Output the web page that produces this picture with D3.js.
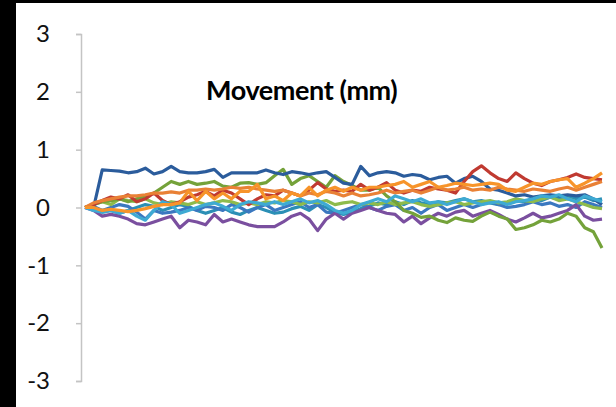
<!DOCTYPE html>
<html lang="en">
<head>
  <meta charset="UTF-8">
  <title>Movement (mm)</title>
  <script src="https://d3js.org/d3.v7.min.js"></script>
  <style>
    body { margin: 0; background: #000; }
    svg { display: block; }
    .y.axis path, .y.axis line { stroke: #c4c4c4; stroke-width: 1.5; }
    .y.axis text { font-family: Lato, "Open Sans", sans-serif; font-size: 24px; fill: #111; }
    .title { font-family: Lato, "Open Sans", sans-serif; font-weight: bold; font-size: 27px; letter-spacing: -0.4px; fill: #000; }
  </style>
</head>
<body>
  <svg width="616" height="407"></svg>
  <script>
    // tick values on the y axis
    const yTicks = [-3, -2, -1, 0, 1, 2, 3];

    // one value per time step (61 steps)
    const darkBlue = [0, 0, 0.65, 0.64, 0.63, 0.6, 0.62, 0.68, 0.58, 0.62, 0.71, 0.62, 0.6, 0.6, 0.62, 0.66, 0.52, 0.6, 0.6, 0.6,
      0.6, 0.65, 0.6, 0.57, 0.62, 0.6, 0.57, 0.6, 0.62, 0.52, 0.42, 0.4, 0.71, 0.55, 0.6, 0.62, 0.6, 0.54, 0.57, 0.55,
      0.48, 0.52, 0.54, 0.42, 0.5, 0.54, 0.45, 0.32, 0.3, 0.25, 0.2, 0.22, 0.18, 0.2, 0.22, 0.2, 0.22, 0.2, 0.22, 0.15, 0.05];
    const red = [0, 0.05, 0.12, 0.18, 0.15, 0.22, 0.1, 0.15, 0.25, 0.12, 0.05, 0.1, 0.18, 0.22, 0.28, 0.2, 0.3, 0.25, 0.15, 0.05,
      0.15, 0.22, 0.2, 0.3, 0.25, 0.2, 0.3, 0.43, 0.32, 0.28, 0.3, 0.28, 0.4, 0.3, 0.35, 0.43, 0.3, 0.25, 0.3, 0.28,
      0.35, 0.32, 0.3, 0.25, 0.45, 0.62, 0.72, 0.6, 0.5, 0.45, 0.6, 0.5, 0.42, 0.38, 0.45, 0.48, 0.52, 0.58, 0.52, 0.5, 0.48];
    const green = [0, 0.05, 0.1, 0.12, 0.15, 0.1, 0.15, 0.2, 0.25, 0.35, 0.45, 0.4, 0.45, 0.4, 0.42, 0.45, 0.37, 0.35, 0.42, 0.43,
      0.4, 0.43, 0.55, 0.66, 0.4, 0.5, 0.55, 0.45, 0.35, 0.55, 0.45, 0.38, 0.3, 0.3, 0.35, 0.2, 0.1, -0.05, -0.1, -0.17,
      -0.15, -0.22, -0.26, -0.18, -0.22, -0.24, -0.15, -0.08, -0.15, -0.2, -0.38, -0.35, -0.3, -0.22, -0.25, -0.2, -0.1, -0.15, -0.35, -0.42, -0.7];
    const purple = [0, -0.05, -0.15, -0.12, -0.15, -0.2, -0.28, -0.3, -0.25, -0.2, -0.15, -0.35, -0.22, -0.25, -0.3, -0.12, -0.25, -0.2, -0.25, -0.3,
      -0.33, -0.33, -0.33, -0.25, -0.15, -0.1, -0.2, -0.4, -0.2, -0.1, -0.2, -0.1, -0.05, 0, -0.05, -0.1, -0.12, -0.25, -0.15, -0.28,
      -0.18, -0.1, -0.15, -0.08, -0.05, -0.15, -0.1, -0.05, -0.12, -0.2, -0.25, -0.18, -0.1, -0.18, -0.15, -0.1, -0.05, 0.05, -0.15, -0.22, -0.2];
    const cyan = [0, -0.05, -0.08, -0.05, -0.1, -0.05, -0.15, -0.22, -0.05, 0.1, 0.05, -0.1, -0.05, 0, 0.05, 0.08, 0.02, -0.05, 0.05, 0.1,
      0.08, 0.05, 0.1, 0.05, 0.1, 0.15, 0.08, 0.12, 0.05, -0.05, -0.1, -0.05, 0.05, 0.1, 0.15, 0.1, 0.2, 0.15, 0.1, 0.15,
      0.08, 0.1, 0.05, 0.1, 0.15, 0.1, 0.05, 0.08, 0.1, 0.05, 0.1, 0.12, 0.15, 0.2, 0.18, 0.22, 0.15, 0.1, 0.2, 0.15, 0.1];
    const blue = [0, 0.02, -0.05, 0, 0.05, 0.02, -0.08, -0.2, -0.05, -0.1, -0.08, -0.05, 0, -0.05, 0.02, 0, -0.05, 0.05, 0, -0.08,
      0, 0.05, -0.05, 0, 0.05, 0.1, 0, 0.05, -0.08, -0.1, -0.05, 0, 0.05, 0, -0.05, 0.02, 0.05, -0.05, 0, -0.1,
      0, 0.05, -0.05, 0, 0.05, 0, 0.05, 0.1, 0.05, 0, 0.02, 0.05, 0.1, 0.05, 0.08, 0.02, 0.05, 0, 0.1, 0.05, 0];
    const teal = [0, -0.02, -0.08, -0.05, -0.1, -0.05, 0, 0.05, 0.02, -0.05, 0, 0.05, 0.02, -0.05, -0.1, -0.05, 0, -0.08, -0.12, -0.05,
      0, -0.05, -0.1, -0.08, -0.02, 0.02, -0.05, 0.05, 0, -0.08, -0.12, -0.08, -0.02, 0.02, 0.08, 0.05, 0.1, 0.05, 0.12, 0.08,
      0.05, 0.1, 0.08, 0.12, 0.15, 0.1, 0.12, 0.08, 0.05, 0.08, 0.12, 0.1, 0.15, 0.12, 0.18, 0.15, 0.2, 0.15, 0.18, 0.12, 0.15];
    const lightGreen = [0, 0.05, 0.1, 0.05, 0.15, 0.12, 0.1, 0.15, 0.08, 0.05, 0.1, 0.08, 0.05, 0.1, 0.05, 0.08, 0.12, 0.1, 0.05, 0.08,
      0.05, 0.1, 0.08, 0.12, 0.1, 0.05, 0.1, 0.08, 0.12, 0.05, 0.08, 0.1, 0.05, 0.08, 0.05, 0.1, 0.05, 0.08, 0.1, 0.05,
      0.02, 0.05, 0.08, 0.1, 0.05, 0.08, 0.1, 0.12, 0.08, 0.1, 0.15, 0.12, 0.1, 0.15, 0.18, 0.12, 0.15, 0.1, 0.05, 0, -0.02];
    const darkOrange = [0, 0.08, 0.12, 0.15, 0.18, 0.2, 0.2, 0.22, 0.25, 0.25, 0.27, 0.25, 0.3, 0.3, 0.32, 0.3, 0.32, 0.35, 0.33, 0.35,
      0.32, 0.3, 0.28, 0.3, 0.25, 0.2, 0.25, 0.22, 0.28, 0.25, 0.2, 0.25, 0.2, 0.22, 0.25, 0.3, 0.25, 0.28, 0.3, 0.25,
      0.3, 0.35, 0.3, 0.32, 0.35, 0.3, 0.32, 0.3, 0.35, 0.32, 0.3, 0.28, 0.32, 0.3, 0.28, 0.32, 0.35, 0.3, 0.35, 0.4, 0.45];
    const orange = [0, 0, -0.05, -0.03, -0.05, -0.07, -0.05, -0.02, 0.02, 0.05, 0.05, 0.08, 0.28, 0.12, 0.28, 0.15, 0.25, 0.15, 0.28, 0.28,
      0.4, 0.15, 0.2, 0.12, 0.25, 0.2, 0.35, 0.2, 0.3, 0.35, 0.28, 0.35, 0.3, 0.35, 0.35, 0.38, 0.4, 0.45, 0.35, 0.4,
      0.45, 0.35, 0.38, 0.42, 0.4, 0.38, 0.4, 0.42, 0.4, 0.3, 0.28, 0.35, 0.42, 0.4, 0.45, 0.48, 0.5, 0.35, 0.42, 0.5, 0.6];

    const series = [
      {name: "teal", color: "#2b8fb5", values: teal},
      {name: "blue", color: "#3b78c0", values: blue},
      {name: "lightGreen", color: "#8dbb4c", values: lightGreen},
      {name: "purple", color: "#7a4f9f", values: purple},
      {name: "green", color: "#74a23a", values: green},
      {name: "darkBlue", color: "#2b5c9c", values: darkBlue},
      {name: "red", color: "#c03a31", values: red},
      {name: "darkOrange", color: "#e98136", values: darkOrange},
      {name: "cyan", color: "#3eaad3", values: cyan},
      {name: "orange", color: "#f7942a", values: orange}
    ];

    const svg = d3.select("svg");

    // white panel on the black slide
    svg.append("rect")
      .attr("x", 16).attr("y", 3)
      .attr("width", 600).attr("height", 404)
      .attr("fill", "#fff");

    const xScale = d3.scaleLinear().domain([0, darkBlue.length - 1]).range([85, 602]);
    const yScale = d3.scaleLinear().domain([-3, 3]).range([381, 34]);

    // hyphen minus like the original, not the unicode minus d3 uses
    svg.append("g")
      .attr("class", "y axis")
      .attr("transform", "translate(81,0)")
      .call(d3.axisLeft(yScale).tickValues(yTicks).tickFormat(d => String(d)).tickSize(5).tickPadding(26))
      .call(g => g.selectAll("text").attr("text-anchor", "end"));

    const line = d3.line()
      .x((d, i) => xScale(i))
      .y(d => yScale(d));

    svg.selectAll(".series")
      .data(series)
      .enter().append("path")
      .attr("class", "series")
      .attr("fill", "none")
      .attr("stroke", d => d.color)
      .attr("stroke-width", 3.2)
      .attr("stroke-linejoin", "round")
      .attr("d", d => line(d.values));

    svg.append("text")
      .attr("class", "title")
      .attr("x", 206)
      .attr("y", 100)
      .text("Movement (mm)");
  </script>
</body>
</html>
